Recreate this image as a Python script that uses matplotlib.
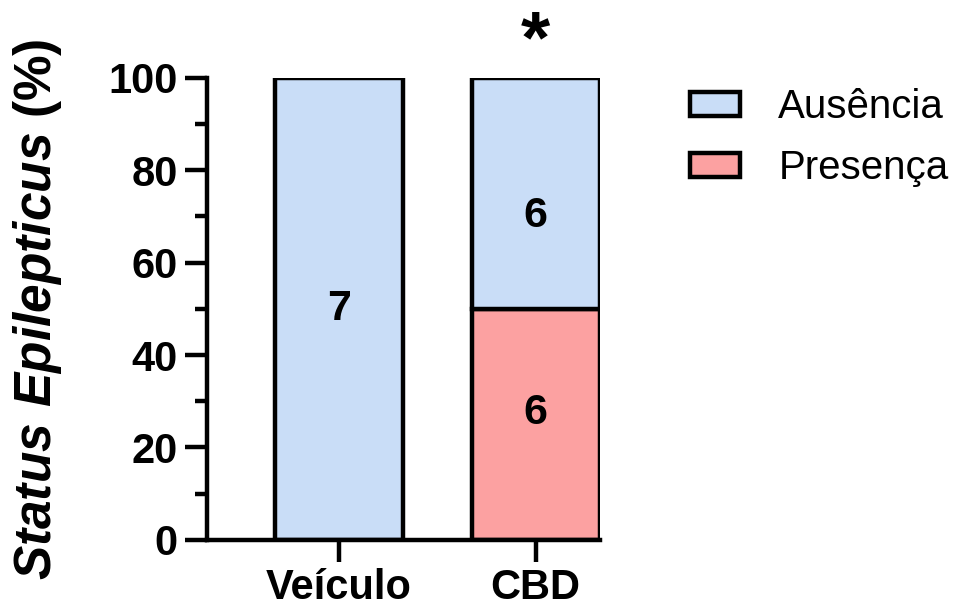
import matplotlib
matplotlib.use("Agg")
import matplotlib.pyplot as plt
from matplotlib.patches import Patch
from matplotlib.ticker import MultipleLocator
import numpy as np

plt.rcParams["font.family"] = ["Liberation Sans", "DejaVu Sans"]
plt.rcParams["mathtext.fontset"] = "custom"
plt.rcParams["mathtext.bfit"] = "Liberation Sans:italic:bold"
plt.rcParams["mathtext.bf"] = "Liberation Sans:bold"
plt.rcParams["mathtext.rm"] = "Liberation Sans"

groups = ["Veículo", "CBD"]
ausencia_n = np.array([7, 6])
presenca_n = np.array([0, 6])
series_labels = ["Ausência", "Presença"]
colors = ["#C9DDF7", "#FCA1A1"]

total = ausencia_n + presenca_n
presenca_pct = presenca_n / total * 100
ausencia_pct = ausencia_n / total * 100

fig = plt.figure(figsize=(9.58, 6.08), dpi=100)
ax = fig.add_axes([0.216, 0.112, 0.41, 0.760])

lw = 3.2
x = np.arange(len(groups))
width = 0.65
ax.bar(x, presenca_pct, width, color=colors[1], edgecolor="black", linewidth=lw, zorder=2)
ax.bar(x, ausencia_pct, width, bottom=presenca_pct, color=colors[0],
       edgecolor="black", linewidth=lw, zorder=2)

# counts written inside each stacked segment
for i in range(len(groups)):
    if presenca_n[i] > 0:
        ax.text(x[i], presenca_pct[i] / 2 + 2.5, str(presenca_n[i]), ha="center",
                va="center", fontsize=31, fontweight="bold")
    if ausencia_n[i] > 0:
        shift = 5 if presenca_pct[i] > 0 else 0
        ax.text(x[i], presenca_pct[i] + ausencia_pct[i] / 2 - shift, str(ausencia_n[i]),
                ha="center", va="center", fontsize=31, fontweight="bold")

ax.text(x[1], 107.5, "*", ha="center", va="center", fontsize=54, fontweight="bold",
        clip_on=False)

ax.set_xlim(-0.67, 1.325)
ax.set_ylim(0, 100)
ax.set_xticks(x)
ax.set_xticklabels(groups, fontsize=30, fontweight="bold")
ax.yaxis.set_major_locator(MultipleLocator(20))
ax.yaxis.set_minor_locator(MultipleLocator(10))
ax.tick_params(axis="y", which="major", length=16, width=lw, labelsize=30, pad=5)
ax.tick_params(axis="y", which="minor", length=9, width=lw)
ax.tick_params(axis="x", which="major", length=16, width=lw, pad=4)
for lab in ax.get_yticklabels():
    lab.set_fontweight("bold")

for s in ["top", "right"]:
    ax.spines[s].set_visible(False)
for s in ["left", "bottom"]:
    ax.spines[s].set_linewidth(lw)

ax.set_ylabel(r"$\mathbfit{Status\ Epilepticus}$ (%)", fontsize=37, fontweight="bold",
              labelpad=32)

handles = [Patch(facecolor=colors[0], edgecolor="black", linewidth=lw),
           Patch(facecolor=colors[1], edgecolor="black", linewidth=lw)]
fig.legend(handles, series_labels, loc="upper left", bbox_to_anchor=(0.720, 0.855),
           frameon=False, fontsize=29, handlelength=1.25, handleheight=0.55,
           handletextpad=0.95, labelspacing=0.57, borderpad=0, borderaxespad=0)

fig.savefig("out.png", dpi=100)
